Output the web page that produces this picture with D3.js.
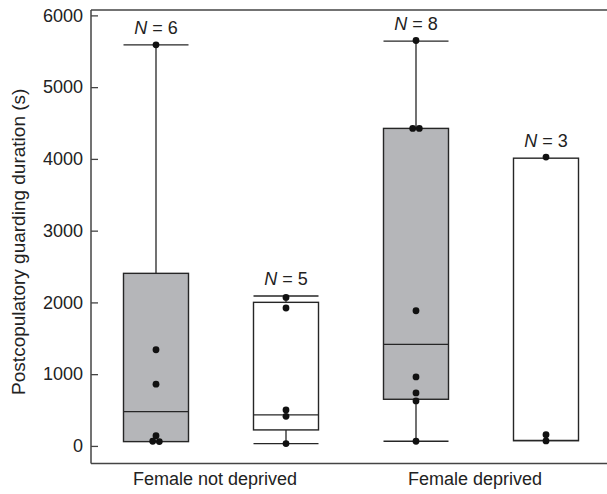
<!DOCTYPE html>
<html lang="en">
    <head>
        <meta charset="UTF-8" />
        <style>
            body { margin: 0; background: #fff; }
            text { font-family: "Liberation Sans", Arial, sans-serif; fill: #222; }
        </style>
    </head>
    <body>
        <svg width="607" height="494"></svg>
        <script src="https://d3js.org/d3.v7.min.js"></script>
        <script>
            // values
            var groups = ["Female not deprived", "Female deprived"]
            var conditions = ["filled", "open"]
            var yTicks = [0, 1000, 2000, 3000, 4000, 5000, 6000]

            var boxGroup = ["Female not deprived", "Female not deprived", "Female deprived", "Female deprived"]
            var boxCond = ["filled", "open", "filled", "open"]
            var whiskerLow = [60, 32, 65, 70]
            var q1 = [60, 223, 650, 72]
            var median = [478, 432, 1416, 78]
            var q3 = [2405, 2001, 4425, 4010]
            var whiskerHigh = [5590, 2089, 5641, 4010]
            var nCount = [6, 5, 8, 3]
            var points = [
                [5590, 1340, 860, 143, 60, 65],
                [2070, 1922, 501, 413, 32],
                [5650, 4425, 4425, 1884, 961, 738, 627, 65],
                [4025, 157, 70]
            ]

            var svg = d3.select("svg")
            var width = +svg.attr("width")
            var left = 91

            var y = d3.scaleLinear().domain([-245, 6075]).range([463.5, 10])

            var x0 = d3.scaleBand().domain(groups).range([left, 611])
            var x1 = d3.scaleBand().domain(conditions)
                .range([0, x0.bandwidth()])
                .paddingInner(0.5).paddingOuter(0.25)

            var fillOf = { filled: "#b5b6b9", open: "#ffffff" }

            // frame: left axis, top and bottom lines
            svg.append("line")
                .attr("x1", left).attr("x2", width)
                .attr("y1", y(6075)).attr("y2", y(6075))
                .attr("stroke", "#444").attr("stroke-width", 1.5)
            svg.append("line")
                .attr("x1", left).attr("x2", width)
                .attr("y1", y(-245)).attr("y2", y(-245))
                .attr("stroke", "#444").attr("stroke-width", 1.5)

            var yAxis = svg.append("g")
                .attr("transform", `translate(${left},0)`)
                .call(d3.axisRight(y).tickValues(yTicks).tickSize(7).tickFormat(d3.format("d")))
            yAxis.select(".domain").remove()
            yAxis.append("line")
                .attr("x1", 0).attr("x2", 0)
                .attr("y1", y(6075)).attr("y2", y(-245))
                .attr("stroke", "#444").attr("stroke-width", 1.5)
            yAxis.selectAll(".tick line").attr("stroke", "#444").attr("stroke-width", 1.3)
            yAxis.selectAll(".tick text")
                .attr("x", -8)
                .attr("text-anchor", "end")
                .attr("font-size", "18px")
                .attr("font-family", "Liberation Sans, Arial, sans-serif")
                .attr("fill", "#222")

            svg.append("text")
                .attr("transform", `translate(25,${(y(-245) + y(6075)) / 2 + 5}) rotate(-90)`)
                .attr("text-anchor", "middle")
                .attr("font-size", "19px")
                .text("Postcopulatory guarding duration (s)")

            // group labels
            svg.selectAll(".glabel").data(groups).enter().append("text")
                .attr("class", "glabel")
                .attr("x", d => x0(d) + x0.bandwidth() / 2 - 6)
                .attr("y", 485)
                .attr("text-anchor", "middle")
                .attr("font-size", "18px")
                .text(d => d)

            var stroke = "#262626"

            boxGroup.forEach(function (g, i) {
                var cx = x0(g) + x1(boxCond[i]) + x1.bandwidth() / 2
                var bw = x1.bandwidth()
                var b = svg.append("g")

                // upper whisker
                if (whiskerHigh[i] > q3[i]) {
                    b.append("line")
                        .attr("x1", cx).attr("x2", cx)
                        .attr("y1", y(q3[i])).attr("y2", y(whiskerHigh[i]))
                        .attr("stroke", stroke).attr("stroke-width", 1.3)
                    b.append("line")
                        .attr("x1", cx - bw / 2).attr("x2", cx + bw / 2)
                        .attr("y1", y(whiskerHigh[i])).attr("y2", y(whiskerHigh[i]))
                        .attr("stroke", stroke).attr("stroke-width", 1.3)
                }
                // lower whisker
                if (whiskerLow[i] < q1[i] - 20) {
                    b.append("line")
                        .attr("x1", cx).attr("x2", cx)
                        .attr("y1", y(q1[i])).attr("y2", y(whiskerLow[i]))
                        .attr("stroke", stroke).attr("stroke-width", 1.3)
                    b.append("line")
                        .attr("x1", cx - bw / 2).attr("x2", cx + bw / 2)
                        .attr("y1", y(whiskerLow[i])).attr("y2", y(whiskerLow[i]))
                        .attr("stroke", stroke).attr("stroke-width", 1.3)
                }

                b.append("rect")
                    .attr("x", cx - bw / 2)
                    .attr("y", y(q3[i]))
                    .attr("width", bw)
                    .attr("height", y(q1[i]) - y(q3[i]))
                    .attr("fill", fillOf[boxCond[i]])
                    .attr("stroke", stroke).attr("stroke-width", 1.4)

                b.append("line")
                    .attr("x1", cx - bw / 2).attr("x2", cx + bw / 2)
                    .attr("y1", y(median[i])).attr("y2", y(median[i]))
                    .attr("stroke", stroke).attr("stroke-width", 1.3)

                // points: near-equal values are put side by side
                var pts = points[i].slice().sort((a, c) => c - a)
                var placed = []
                pts.forEach(function (v, k) {
                    var py = y(v)
                    var dx = 0
                    if (k > 0 && Math.abs(y(pts[k - 1]) - py) < 4) {
                        placed[k - 1].dx = -3.3
                        dx = 3.3
                    }
                    placed.push({ v: v, dx: dx })
                })
                b.selectAll("circle").data(placed).enter().append("circle")
                    .attr("cx", d => cx + d.dx)
                    .attr("cy", d => y(d.v))
                    .attr("r", 3.4)
                    .attr("fill", "#111")

                var t = b.append("text")
                    .attr("x", cx)
                    .attr("y", y(whiskerHigh[i]) - 11)
                    .attr("text-anchor", "middle")
                    .attr("font-size", "18px")
                t.append("tspan").attr("font-style", "italic").text("N")
                t.append("tspan").text(" = " + nCount[i])
            })
        </script>
    </body>
</html>
